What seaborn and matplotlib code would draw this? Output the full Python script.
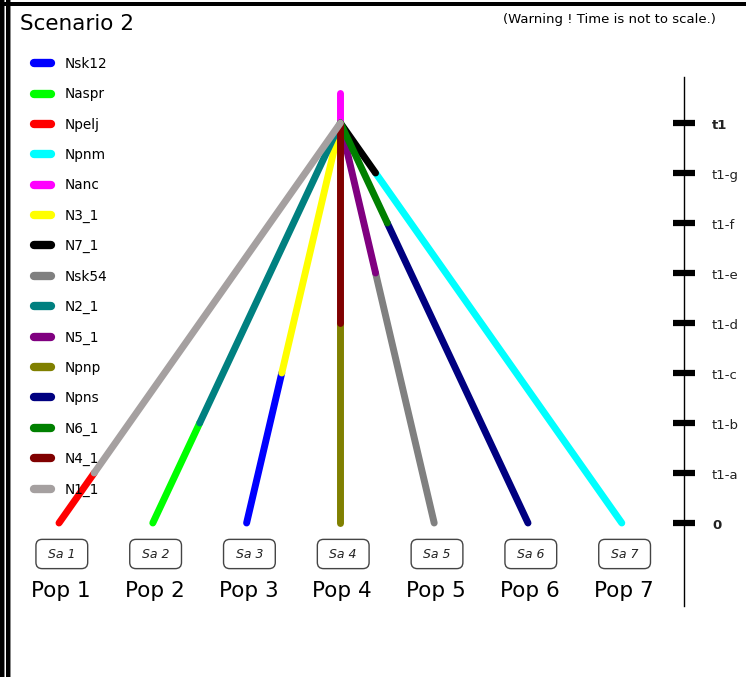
import numpy as np
import pandas as pd
import matplotlib.pyplot as plt
from matplotlib.patches import Rectangle
import seaborn as sns

# populations / samples along the bottom
pops = ['Pop 1', 'Pop 2', 'Pop 3', 'Pop 4', 'Pop 5', 'Pop 6', 'Pop 7']
samples = ['Sa 1', 'Sa 2', 'Sa 3', 'Sa 4', 'Sa 5', 'Sa 6', 'Sa 7']

# time levels (not to scale)
time_labels = ['0', 't1-a', 't1-b', 't1-c', 't1-d', 't1-e', 't1-f', 't1-g', 't1']

# each branch: size param below the change point, above it, and the change level
lower_params = ['Npelj', 'Naspr', 'Nsk12', 'Npnp', 'Nsk54', 'Npns', 'Npnm']
upper_params = ['N1_1', 'N2_1', 'N3_1', 'N4_1', 'N5_1', 'N6_1', 'N7_1']
change_level = [1, 2, 3, 4, 5, 6, 7]
root_level = 8
anc_top = 8.6

legend_order = ['Nsk12', 'Naspr', 'Npelj', 'Npnm', 'Nanc', 'N3_1', 'N7_1', 'Nsk54',
                'N2_1', 'N5_1', 'Npnp', 'Npns', 'N6_1', 'N4_1', 'N1_1']
colors = {
    'Nsk12': '#0000ff', 'Naspr': '#00ff00', 'Npelj': '#ff0000', 'Npnm': '#00ffff',
    'Nanc': '#ff00ff', 'N3_1': '#ffff00', 'N7_1': '#000000', 'Nsk54': '#808080',
    'N2_1': '#008080', 'N5_1': '#800080', 'Npnp': '#808000', 'Npns': '#000080',
    'N6_1': '#008000', 'N4_1': '#800000', 'N1_1': '#a5a0a0',
}

# build segments table
pop_x = np.arange(1, len(pops) + 1)
root_x = pop_x.mean()
rows = []
for x, lo, up, k in zip(pop_x, lower_params, upper_params, change_level):
    xk = x + (root_x - x) * k / root_level
    rows += [(lo, x, 0), (lo, xk, k), (up, xk, k), (up, root_x, root_level)]
rows += [('Nanc', root_x, root_level), ('Nanc', root_x, anc_top)]
df = pd.DataFrame(rows, columns=['param', 'x', 'level'])

# figure: axes over the whole canvas, pixel mapping via limits
W, H = 746, 677
x_px0, x_step = 59, 93.8
y_px0, y_step = 523, 50
fig = plt.figure(figsize=(W / 100, H / 100), dpi=100)
ax = fig.add_axes([0, 0, 1, 1])
ax.set_xlim(1 - x_px0 / x_step, 1 + (W - x_px0) / x_step)
ax.set_ylim((y_px0 - H) / y_step, y_px0 / y_step)
ax.axis('off')

sns.lineplot(data=df, x='x', y='level', hue='param', hue_order=legend_order,
             palette=colors, estimator=None, sort=False, lw=5,
             solid_capstyle='round', ax=ax)

handles, labels = ax.get_legend_handles_labels()
for h in handles:
    h.set_linewidth(6)
    h.set_solid_capstyle('round')
ax.legend(handles, labels, loc='upper left', frameon=False, fontsize=9.8,
          bbox_to_anchor=(34 / W, 1 - 57 / H), bbox_transform=fig.transFigure,
          borderpad=0, borderaxespad=0, handlelength=1.25, handletextpad=1.0,
          labelspacing=1.2)

# sample boxes and population names
for x, s, p in zip(pop_x, samples, pops):
    ax.text(x + 0.03, (y_px0 - 554) / y_step, ' ' + s + ' ', ha='center', va='center',
            fontsize=9, style='italic', color='#222222',
            bbox=dict(boxstyle='round,pad=0.65,rounding_size=0.5', fc='white',
                      ec='#444444', lw=1))
    ax.text(x + 0.02, (y_px0 - 591) / y_step, p, ha='center', va='center', fontsize=15.5)

# time axis on the right
axis_x = 1 + (684 - x_px0) / x_step
levels = np.arange(len(time_labels))
ax.plot([axis_x, axis_x], [(y_px0 - 606) / y_step, (y_px0 - 77) / y_step],
        color='black', lw=1)
ax.plot(np.full(len(levels), axis_x), levels, ls='none', marker='_',
        ms=16, mew=4.5, color='black')
for lv, lab in zip(levels, time_labels):
    bold = lab in ('0', 't1')
    ax.text(axis_x + 28 / x_step, lv - 0.05, lab, ha='left', va='center', fontsize=9.5,
            fontweight='bold' if bold else 'normal', color='#222222')

fig.text(20 / W, 1 - 24 / H, 'Scenario 2', ha='left', va='center', fontsize=15.5)
fig.text(716 / W, 1 - 19 / H, '(Warning ! Time is not to scale.)', ha='right',
         va='center', fontsize=9.5)

# window frame
for x0, w, c in [(0, 4, 'black'), (4, 1.2, '#888888'), (5.5, 4, 'black'), (9.5, 1, '#888888')]:
    fig.add_artist(Rectangle((x0 / W, 0), w / W, 1, transform=fig.transFigure,
                             color=c, lw=0))
fig.add_artist(Rectangle((0, 1 - 5.5 / H), 1, 3.5 / H, transform=fig.transFigure,
                         color='black', lw=0))

fig.savefig('out.png', dpi=100)
